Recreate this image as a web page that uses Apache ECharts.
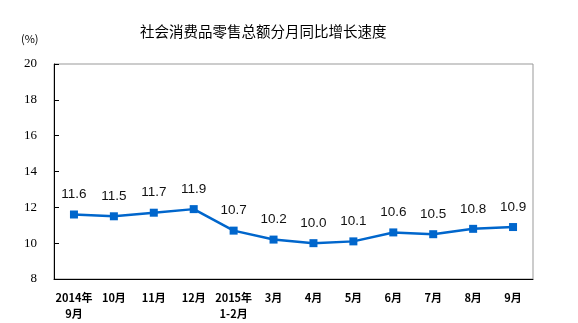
<!DOCTYPE html>
<html><head><meta charset="utf-8">
<script src="https://cdn.jsdelivr.net/npm/echarts@6/dist/echarts.min.js"></script>
<style>html,body{margin:0;padding:0;background:#fff}#c{width:578px;height:323px}</style>
</head><body><div id="c"></div>
<script>
const categories = ['2014年\n9月','10月','11月','12月','2015年\n1-2月','3月','4月','5月','6月','7月','8月','9月'];
const values = [11.6, 11.5, 11.7, 11.9, 10.7, 10.2, 10.0, 10.1, 10.6, 10.5, 10.8, 10.9];
const yMin = 8, yMax = 20, yStep = 2;
const titleText = '社会消费品零售总额分月同比增长速度';
const unitText = '(%)';

const chart = echarts.init(document.getElementById('c'));
chart.setOption({
  animation: false,
  backgroundColor: '#fff',
  title: {
    text: titleText, left: 135, top: 19,
    textStyle: {fontFamily: 'Noto Sans CJK SC', fontSize: 14.5, fontWeight: 'normal', color: '#000'}
  },
  graphic: [{
    type: 'text', left: 21, top: 33,
    style: {text: unitText, font: '11px "Noto Sans CJK SC"', fill: '#000'}
  }],
  grid: {left: 54, right: 45, top: 64, bottom: 44, show: true, borderColor: '#999', borderWidth: 1, containLabel: false},
  xAxis: {
    type: 'category', data: categories, boundaryGap: true,
    axisLine: {lineStyle: {color: '#000', width: 1}},
    axisTick: {inside: true, length: 5, lineStyle: {color: '#000'}},
    axisLabel: {fontFamily: 'Noto Sans CJK SC', fontSize: 11, color: '#000', fontWeight: 'bold', margin: 11, lineHeight: 16, interval: 0}
  },
  yAxis: {
    type: 'value', min: yMin, max: yMax, interval: yStep,
    axisLine: {show: true, lineStyle: {color: '#000', width: 1}},
    axisTick: {show: true, inside: true, length: 5, lineStyle: {color: '#000'}},
    splitLine: {show: false},
    axisLabel: {fontFamily: 'Liberation Serif', fontSize: 13, color: '#000', margin: 17}
  },
  series: [{
    type: 'line', data: values,
    symbol: 'rect', symbolSize: 8,
    lineStyle: {color: '#0066cc', width: 2.5},
    itemStyle: {color: '#0066cc'},
    label: {show: true, position: 'top', distance: 9, fontFamily: 'Liberation Sans', fontSize: 13.5, color: '#111',
      formatter: p => p.value.toFixed(1)}
  }]
});
</script></body></html>
